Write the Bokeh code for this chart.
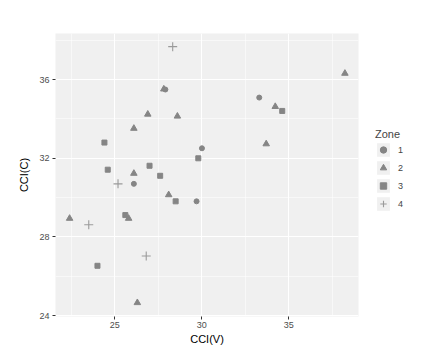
from bokeh.plotting import figure
from bokeh.models import (FixedTicker, Legend, LegendItem, Range1d)
from bokeh.embed import file_html
from bokeh.resources import INLINE

# Data (CCI(V), CCI(C)) by Zone
zone1_v = [27.91, 30.01, 33.30, 26.10, 29.70]
zone1_c = [35.50, 32.51, 35.09, 30.70, 29.81]
zone2_v = [27.82, 26.90, 28.60, 26.10, 26.10, 38.22, 34.22, 33.70, 28.10, 22.41, 25.80, 26.30]
zone2_c = [35.52, 34.24, 34.14, 33.52, 31.23, 36.32, 34.63, 32.73, 30.14, 28.94, 28.94, 24.65]
zone3_v = [24.41, 29.80, 24.60, 27.00, 27.61, 34.62, 28.50, 25.61, 24.01]
zone3_c = [32.80, 32.00, 31.42, 31.62, 31.11, 34.41, 29.81, 29.11, 26.53]
zone4_v = [28.33, 25.19, 23.51, 26.81]
zone4_c = [37.68, 30.70, 28.62, 27.03]
zones = ["1", "2", "3", "4"]
x_ticks = [25, 30, 35]
y_ticks = [24, 28, 32, 36]

FONT = "Liberation Sans"
PANEL = "#F0F0F0"
PT = "#858585"

p = figure(frame_width=303, frame_height=283, output_backend="svg", toolbar_location=None,
           x_range=Range1d(21.6, 39.0), y_range=Range1d(23.95, 38.35),
           min_border_left=55, min_border_right=72, min_border_top=33,
           min_border_bottom=38)
p.outline_line_color = None
p.background_fill_color = PANEL
p.border_fill_color = "white"

p.xaxis.ticker = FixedTicker(ticks=x_ticks, minor_ticks=[22.5, 27.5, 32.5, 37.5])
p.yaxis.ticker = FixedTicker(ticks=y_ticks, minor_ticks=[26, 30, 34, 38])
for ax in (p.xaxis, p.yaxis):
    ax.axis_line_color = None
    ax.major_tick_out = 3
    ax.major_tick_in = 0
    ax.major_tick_line_color = "#333333"
    ax.minor_tick_out = 0
    ax.minor_tick_in = 0
    ax.major_label_text_font = FONT
    ax.major_label_text_font_size = "9px"
    ax.major_label_text_color = "#4D4D4D"
    ax.axis_label_text_font = FONT
    ax.axis_label_text_font_size = "11px"
    ax.axis_label_text_font_style = "normal"
    ax.axis_label_text_color = "black"
p.xaxis.axis_label = "CCI(V)"
p.yaxis.axis_label = "CCI(C)"
p.xaxis.major_label_standoff = 2
p.xaxis.axis_label_standoff = 2
p.yaxis.major_label_standoff = 3
p.yaxis.axis_label_standoff = 6

p.grid.grid_line_color = "white"
p.grid.grid_line_width = 1.1
p.grid.minor_grid_line_color = "white"
p.grid.minor_grid_line_width = 0.55

r1 = p.scatter(zone1_v, zone1_c, marker="circle", size=5, fill_color=PT, line_color=PT)
r2 = p.scatter(zone2_v, zone2_c, marker="triangle", size=6.5, fill_color=PT, line_color=PT)
r3 = p.scatter(zone3_v, zone3_c, marker="square", size=5, fill_color=PT, line_color=PT)
r4 = p.scatter(zone4_v, zone4_c, marker="cross", size=9, line_color="#9a9a9a", line_width=1.1)

# legend key background (a glyph kept off-screen; only its legend swatch is seen)
bg = p.rect(x=[-100], y=[-100], width=1, height=1, fill_color="#F0F0F0", line_color=None)

items = [LegendItem(label=z, renderers=[bg, r]) for z, r in zip(zones, [r1, r2, r3, r4])]
legend = Legend(items=items, title="Zone", location=(17, 104),
                glyph_width=16, glyph_height=17, spacing=1, label_standoff=7,
                padding=4, margin=0, background_fill_alpha=0, border_line_color=None,
                title_text_font=FONT, title_text_font_size="11px", title_text_font_style="normal",
                title_standoff=1,
                label_text_font=FONT, label_text_font_size="9px", label_height=17)
p.add_layout(legend, "right")

open("out.html", "w").write(file_html(p, INLINE))
